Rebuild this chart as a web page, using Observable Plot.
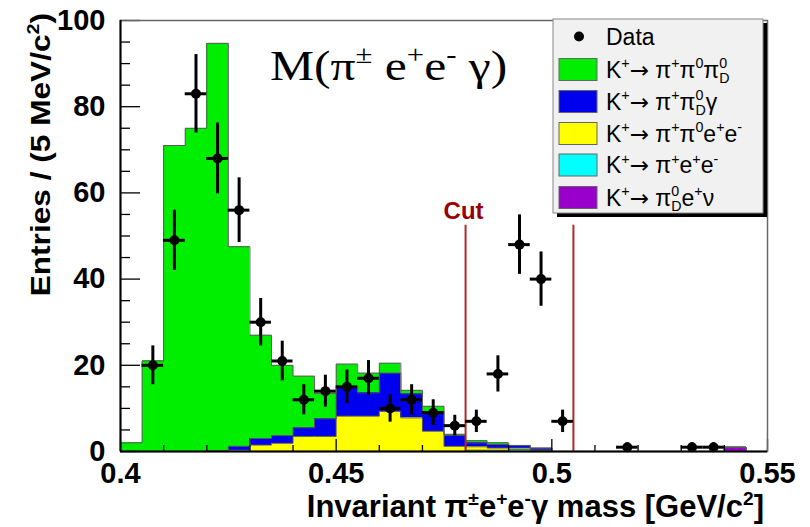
<!DOCTYPE html>
<html><head><meta charset="utf-8">
<script src="https://cdn.jsdelivr.net/npm/d3@7"></script>
<script src="https://cdn.jsdelivr.net/npm/@observablehq/plot@0.6"></script>
<style>
html,body{margin:0;padding:0;background:#fff;}
#chart svg{display:block;}
#chart [aria-label^="x-axis"] text{font-size:29px;font-weight:bold;font-family:'Liberation Sans',Arial,sans-serif;}
#chart [aria-label^="y-axis"] text{font-size:29px;font-weight:bold;font-family:'Liberation Sans',Arial,sans-serif;}
</style></head><body><div id="chart"></div>
<script>
// ---- data ----
const binLow = [0.400,0.405,0.410,0.415,0.420,0.425,0.430,0.435,0.440,0.445,
                0.450,0.455,0.460,0.465,0.470,0.475,0.480,0.485,0.490,0.495,
                0.500,0.505,0.510,0.515,0.520,0.525,0.530,0.535,0.540,0.545];
const binWidth = 0.005;
const greenMC  = [2,21,71,75,94.5,46.3,24,16.3,12,5.9, 5.2,4.6,2.3,0.8,1.2,0.3,0.5,0.4,0,0, 0,0,0,0,0,0,0,0,0,0];
const blueMC   = [0,0,0,0,0,0.9,1.5,1.8,2.0,4.1, 6.9,5.4,8.9,5.6,4.6,2.5,0.9,0.8,0.6,0.5, 0,0,0,0,0,0,0,0,0,0];
const yellowMC = [0,0,0,0,0.2,0.3,1.5,1.9,3.5,3.5, 8.2,8.2,9.3,7.8,4.7,1.2,0.8,0.5,0.4,0, 0,0,0,0,0,0,0,0,0,0];
const cyanMC   = [0,0,0,0,0,0,0,0,0,0, 0,0,0,0,0,0,0.3,0.3,0.4,0.3, 0,0,0,0,0,0,0,0,0,0];
const purpleMC = [0,0,0,0,0,0,0,0,0,0, 0,0,0,0,0,0,0,0,0,0, 0,0,0,0,0,0,0,0,1.0,0];
const dataCounts = [0,20,49,83,68,56,30,21,12,14, 15,17,10,12,9,6,7,18,48,40, 7,0,0,1,0,0,1,1,0,0];
const dataErr    = [0,4.5,7,9.1,8.2,7.5,5.5,4.6,3.5,3.7, 3.9,4.1,3.2,3.5,3,2.4,2.6,4.2,6.9,6.3, 2.6,0,0,1,0,0,1,1,0,0];
const seriesNames  = ["pipi0pi0D","pipi0Dgamma","pipi0ee","piee","pi0Denu"];
const seriesColors = ["#00ee00","#0000ee","#ffff00","#00ffff","#9900cc"];
const stackOrder   = ["pi0Denu","piee","pipi0ee","pipi0Dgamma","pipi0pi0D"]; // bottom -> top
const cutValues = [0.48, 0.505];
const cutTop = [52.5];
const xTicks = [0.4, 0.45, 0.5, 0.55];
const xMinor = [0.41,0.42,0.43,0.44,0.46,0.47,0.48,0.49,0.51,0.52,0.53,0.54];
const yTicks = [0,20,40,60,80,100];
const yMinor = [5,10,15,25,30,35,45,50,55,65,70,75,85,90,95];

// ---- tables ----
const mcSeries = [greenMC, blueMC, yellowMC, cyanMC, purpleMC];
const rows = [];
seriesNames.forEach((s, k) => binLow.forEach((lo, i) =>
  rows.push({series: s, x1: lo, x2: lo + binWidth, value: mcSeries[k][i]})));
const pts = [];
binLow.forEach((lo, i) => { if (dataCounts[i] > 0) pts.push({
  x: lo + binWidth / 2, x1: lo, x2: lo + binWidth, y: dataCounts[i],
  lo: dataCounts[i] - dataErr[i], hi: dataCounts[i] + dataErr[i]}); });

const W = 810, H = 527, mL = 120, mR = 43, mT = 20, mB = 76;
const plotW = W - mL - mR, plotH = H - mT - mB;

const chart = Plot.plot({
  width: W, height: H, marginLeft: mL, marginRight: mR, marginTop: mT, marginBottom: mB,
  x: {domain: [0.4, 0.55], ticks: xTicks, tickFormat: d => String(+d.toFixed(2)), tickSize: 0, tickPadding: 11, label: null},
  y: {domain: [0, 100], ticks: yTicks, tickSize: 0, tickPadding: 15, label: null},
  color: {domain: seriesNames, range: seriesColors},
  style: {fontFamily: "'Liberation Sans', Arial, sans-serif", background: "#fff", overflow: "visible", color: "#000"},
  marks: [
    Plot.rectY(rows, {x1: "x1", x2: "x2", y: "value", fill: "series", order: stackOrder, shapeRendering: "crispEdges"}),
    Plot.lineY(rows, Plot.stackY2({x: "x1", y: "value", z: "series", order: stackOrder, curve: "step-after", stroke: "#5a5a5a", strokeWidth: 1})),
    Plot.tickY(yTicks, {y: d => d, insetRight: plotW - 20, stroke: "#000", strokeWidth: 1.3}),
    Plot.tickY(yMinor, {y: d => d, insetRight: plotW - 10, stroke: "#000", strokeWidth: 1.3}),
    Plot.tickX(xTicks, {x: d => d, insetTop: plotH - 12, stroke: "#000", strokeWidth: 1.3}),
    Plot.tickX(xMinor, {x: d => d, insetTop: plotH - 6, stroke: "#000", strokeWidth: 1.3}),
    Plot.ruleX(cutValues, {x: d => d, y1: 0, y2: cutTop[0], stroke: "#b02828", strokeWidth: 2}),
    Plot.text(["Cut"], {x: cutValues[0], y: cutTop[0], text: d => d, dy: -14, dx: -2, fill: "#990000", fontSize: 24, fontWeight: "bold"}),
    Plot.ruleX(pts, {x: "x", y1: "lo", y2: "hi", stroke: "#000", strokeWidth: 3}),
    Plot.ruleY(pts, {y: "y", x1: "x1", x2: "x2", stroke: "#000", strokeWidth: 3}),
    Plot.dot(pts, {x: "x", y: "y", r: 5, fill: "#000"}),
    Plot.frame({stroke: "#666", strokeWidth: 1.5}),
    Plot.ruleY([0], {stroke: "#000", strokeWidth: 2}),
    Plot.ruleX([0.4], {stroke: "#000", strokeWidth: 2})
  ]
});
document.getElementById("chart").append(chart);

// ---- rich text helper (sup / sub / stacked) ----
function rich(g, x, y, parts, size, attrs) {
  const t = g.append("text").attr("x", x).attr("y", y).attr("font-size", size)
    .attr("text-anchor", "start").style("white-space", "pre");
  Object.entries(attrs || {}).forEach(([k, v]) => t.attr(k, v));
  let shift = 0, prev = null;
  parts.forEach(p => {
    const ts = t.append("tspan").text(p.t);
    let target = 0, fs = size;
    if (p.sup) { target = -0.40 * size; fs = 0.62 * size; }
    if (p.sub) { target = 0.25 * size; fs = 0.62 * size; }
    ts.attr("font-size", fs).attr("dy", target - shift);
    if (p.font) ts.attr("font-family", p.font);
    if (p.stack && prev) ts.attr("dx", -prev.node().getComputedTextLength());
    shift = target; prev = ts;
  });
  return t;
}
const svg = d3.select(chart);
const sans = "'Liberation Sans', Arial, sans-serif";
const serif = "'Liberation Serif', 'Times New Roman', serif";
const arrowFont = "'DejaVu Sans', sans-serif";

// Title inside frame
const tt = rich(svg, 0, 0, [{t: "M(π"}, {t: "±", sup: true}, {t: " e"}, {t: "+", sup: true}, {t: "e"}, {t: "-", sup: true}, {t: " γ)"}], 42,
  {"font-family": serif, fill: "#000"});
tt.attr("transform", "translate(270,80) scale(1.18,1)");

// Axis titles
rich(svg, 764, 517, [{t: "Invariant π"}, {t: "±", sup: true}, {t: "e"}, {t: "+", sup: true}, {t: "e"}, {t: "-", sup: true}, {t: "γ mass [GeV/c"}, {t: "2", sup: true}, {t: "]"}], 31,
  {"font-family": sans, "font-weight": "bold", "text-anchor": "end", fill: "#000"});
const yt = rich(svg, 0, 0, [{t: "Entries / (5 MeV/c"}, {t: "2", sup: true}, {t: ")"}], 28,
  {"font-family": sans, "font-weight": "bold", "text-anchor": "end", fill: "#000"});
yt.attr("transform", "translate(50,13) rotate(-90) scale(1.13,1)");

// Legend
const lg = svg.append("g").attr("font-family", sans);
const bx = 553, by = 19, bw = 210, bh = 194;
lg.append("rect").attr("x", bx + 4).attr("y", by + 4).attr("width", bw).attr("height", bh).attr("fill", "#000");
lg.append("rect").attr("x", bx).attr("y", by).attr("width", bw).attr("height", bh).attr("fill", "#f1f1f1").attr("stroke", "#888").attr("stroke-width", 1);
const rowsY = [36.5, 69.5, 101.5, 133.5, 165, 197.5];
lg.append("circle").attr("cx", 579).attr("cy", rowsY[0]).attr("r", 5).attr("fill", "#000");
const K = [{t: "K"}, {t: "+", sup: true}, {t: "→", font: arrowFont}, {t: " π"}];
const legendParts = [
  [{t: "Data"}],
  [...K, {t: "+", sup: true}, {t: "π"}, {t: "0", sup: true}, {t: "π"}, {t: "0", sup: true}, {t: "D", sub: true, stack: true}],
  [...K, {t: "+", sup: true}, {t: "π"}, {t: "0", sup: true}, {t: "D", sub: true, stack: true}, {t: "γ"}],
  [...K, {t: "+", sup: true}, {t: "π"}, {t: "0", sup: true}, {t: "e"}, {t: "+", sup: true}, {t: "e"}, {t: "-", sup: true}],
  [...K, {t: "+", sup: true}, {t: "e"}, {t: "+", sup: true}, {t: "e"}, {t: "-", sup: true}],
  [...K, {t: "0", sup: true}, {t: "D", sub: true, stack: true}, {t: "e"}, {t: "+", sup: true}, {t: "ν"}]
];
seriesColors.forEach((c, i) => {
  lg.append("rect").attr("x", 559).attr("y", rowsY[i + 1] - 11).attr("width", 38).attr("height", 22)
    .attr("fill", c).attr("stroke", "#666").attr("stroke-width", 1);
});
legendParts.forEach((p, i) => rich(lg, 606, rowsY[i] + 8, p, 23, {fill: "#000"}));
</script>
</body></html>
